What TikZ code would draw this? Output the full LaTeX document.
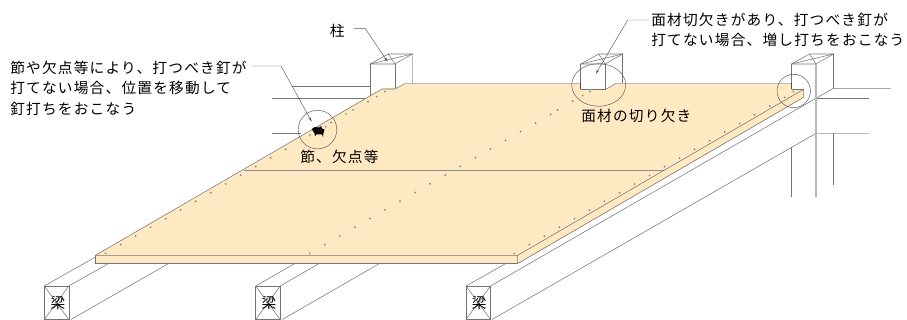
\documentclass[tikz,border=0pt]{standalone}
\usepackage{fontspec}
\newfontfamily\jpfont[LetterSpace=8.4]{Noto Sans CJK JP}
\usetikzlibrary{arrows.meta}
\definecolor{panelcolor}{HTML}{FEE9C2}
\tikzset{
	edge/.style={line width=0.4pt, color=black!55},
	heavyedge/.style={line width=0.8pt, color=black!28},
	leader/.style={line width=0.35pt, color=black!65},
	label/.style={inner sep=0pt, anchor=west, align=left, font=\fontsize{11}{15.5}\selectfont\jpfont},
	beamlabel/.style={inner sep=0pt, font=\fontsize{11}{12}\selectfont\jpfont},
	nail/.style={line width=0.3pt, draw=black!50, fill=black!18}
}
\def\squarepost(#1,#2){
	\draw[edge] (#1, 64) -- (#1+24.5, 64) -- (#1+42, 54) -- (#1+18, 54) -- cycle;
	\draw[edge] (#1, 64) -- (#1+42, 54);
	\draw[edge] (#1+18, 54) -- (#1+24.5, 64);
	\draw[edge] (#1, 64) -- (#1, #2);
	\draw[edge] (#1+24.5, 64) -- (#1+24.5, 89.5);
}
\def\beamend(#1){
	\draw[edge] (#1, 286) rectangle (#1+24.5, 319.5);
	\draw[edge] (#1, 286) -- (#1+24.5, 319.5);
	\draw[edge] (#1+24.5, 286) -- (#1, 319.5);
}

\begin{document}
\begin{tikzpicture}[x=0.75pt, y=-0.75pt]
			%%%%% START %%%%%
			\useasboundingbox (0, 0) rectangle (907, 320);
			
			% beams
			\beamend(44.3);
			\draw[edge] (44.3, 286) -- (95.5, 257);
			\draw[edge] (68.8, 286) -- (107.5, 264);
			\draw[edge] (71, 319.5) -- (167.7, 264);
			
			\beamend(255.7);
			\draw[edge] (255.7, 286) -- (294, 264);
			\draw[edge] (280.2, 286) -- (318.3, 264);
			\draw[edge] (282.3, 319.5) -- (378.7, 264);
			
			\beamend(466);
			\draw[edge] (466, 286) -- (505, 264);
			\draw[edge] (490.5, 286) -- (816, 98.3) -- (833.3, 88.3) -- (890.7, 88.3);
			\draw[edge] (492, 319.5) -- (816, 133.3);
			
			% lines behind the panel
			\draw[edge] (292.3, 86.3) -- (370.3, 86.3);
			\draw[edge] (272.3, 98.7) -- (366, 98.7);
			\draw[edge] (272.3, 133.3) -- (301, 133.3);
			\draw[edge] (816, 98.3) -- (869.3, 98.3);
			\draw[heavyedge] (816, 133.3) -- (869.3, 133.3);
			
			% posts
			\squarepost(370.3, 96);
			\draw[heavyedge] (412.3, 54) -- (412.3, 83.5);
			\squarepost(580.7, 89.5);
			\draw[edge] (622.7, 54) -- (622.7, 83.5);
			\squarepost(791.5, 89.5);
			\draw[heavyedge] (816, 64) -- (816, 196.7);
			\draw[edge] (833.5, 54) -- (833.5, 88.3);
			\draw[edge] (791.7, 147.3) -- (791.7, 196.7);
			\draw[edge] (833.3, 133.3) -- (833.3, 185);
			
			% panel
			\draw[fill=panelcolor, color=panelcolor, line width=0pt]
				(95.5, 255.3) -- (244, 170) -- (382, 89) -- (395, 89) -- (405, 83.5) -- (580.7, 83.5) -- (580.7, 89.5)
				-- (605.7, 89.5) -- (615.7, 83.5) -- (791.5, 83.5) -- (791.5, 89.5) -- (803.3, 89.5) -- (803.3, 97.5)
				-- (517.7, 263.5) -- (95.5, 263.5) -- cycle;
			\draw[edge] (95.5, 255.3) -- (382, 89) -- (395, 89) -- (405, 83.5);
			\draw[heavyedge] (405, 83.5) -- (580.7, 83.5);
			\draw[edge] (580.7, 89.5) -- (605.7, 89.5) -- (615.7, 83.5);
			\draw[heavyedge] (615.7, 83.5) -- (791.5, 83.5);
			\draw[line width=0.8pt, color=black!70] (580.7, 83.5) -- (580.7, 89.5);
			\draw[line width=0.8pt, color=black!70] (791.5, 83.5) -- (791.5, 89.5);
			\draw[edge] (791.5, 89.5) -- (803.3, 89.5) -- (517.7, 255.3) -- (95.5, 255.3) -- (95.5, 263.5) -- (517.7, 263.5) -- (517.7, 255.3);
			\draw[edge] (517.7, 263.5) -- (803.3, 97.5) -- (803.3, 89.5);
			\draw[line width=0.3pt, color=black!45] (244, 170) -- (664, 170);
			
			% nails
			\foreach \k in {0,...,12}
				\draw[nail] (105.7+15*\k, 253.3-8.67*\k) circle (0.7);
			\foreach \x/\y in {310/135, 325.7/126.7, 331/122.7, 346/114, 353/110, 368/101.7, 376.7/96.7, 385/91.7}
				\draw[nail] (\x, \y) circle (0.7);
			\foreach \k in {0,...,16}
				\draw[nail] (309.7+15.06*\k, 253.3-8.69*\k) circle (0.7);
			\foreach \x/\y in {557.7/110, 572.7/101, 582.7/95.7, 590/91.7}
				\draw[nail] (\x, \y) circle (0.7);
			\foreach \k in {0,...,18}
				\draw[nail] (514.3+15.02*\k, 253.3-8.66*\k) circle (0.7);
			\draw[nail] (793.3, 91.7) circle (0.7);
			
			% knot
			\fill[black] (311.7, 129) -- (315, 127) -- (319, 127.5) -- (321, 126) -- (322, 128.5) -- (324.5, 129.5)
				-- (323.5, 133) -- (323, 137) -- (322, 134.5) -- (316, 134.5) -- (315, 136.5) -- (314.5, 133.5) -- cycle;
			
			% rings
			\draw[leader] (317.5, 129.6) circle (19.3);
			\draw[leader] (598.7, 85) ellipse (27 and 21.3);
			\draw[leader] (793.7, 91) circle (16.7);
			
			% labels
			\node[label] (posttext) at (329.5, 30.5) {柱};
			\node[label] (knotnote) at (10, 88.3) {節や欠点等により、打つべき釘が\\打てない場合、位置を移動して\\釘打ちをおこなう};
			\node[label] (cutnote) at (651, 30) {面材切欠きがあり、打つべき釘が\\打てない場合、増し打ちをおこなう};
			\node[label] (cuttext) at (581, 115.7) {面材の切り欠き};
			\node[label] (knottext) at (300, 156.7) {節、欠点等};
			\node[beamlabel] (beamone) at (58, 303.3) {梁};
			\node[beamlabel] (beamtwo) at (269, 303.3) {梁};
			\node[beamlabel] (beamthree) at (479.3, 303.3) {梁};
			
			% leaders
			\coordinate (posttip) at (387.7, 61.7);
			\coordinate (knotfrom) at (251.7, 66);
			\coordinate (knottip) at (311.7, 121.7);
			\coordinate (cutfrom) at (649.3, 20);
			\coordinate (cuttip) at (595.7, 74);
			\draw[leader, -{Stealth[length=3.5pt, width=1.8pt]}] (354, 28.3) -- (365, 28.3) -- (posttip);
			\draw[leader, -{Stealth[length=3.5pt, width=1.8pt]}] (knotfrom) -- (281, 66) -- (knottip);
			\draw[leader, -{Stealth[length=3.5pt, width=1.8pt]}] (cutfrom) -- (627.7, 20) -- (cuttip);
			
			%%%%% END %%%%%
\end{tikzpicture}
\end{document}
